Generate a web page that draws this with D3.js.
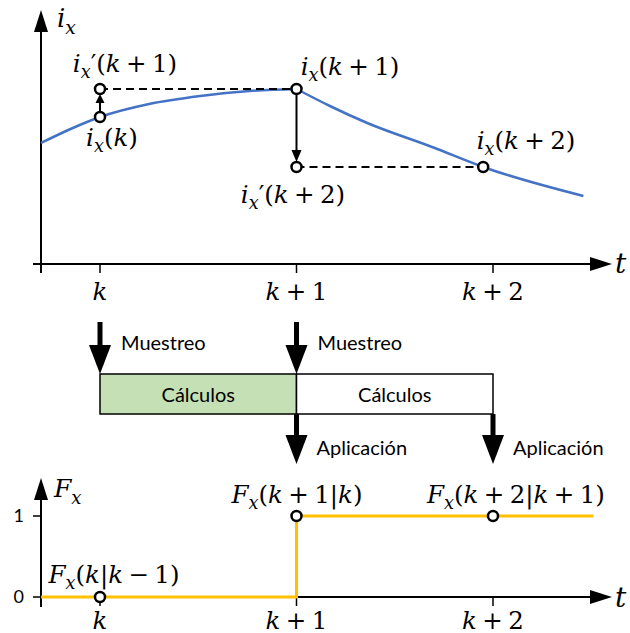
<!DOCTYPE html>
<html>
<head>
<meta charset="utf-8">
<script src="https://cdn.jsdelivr.net/npm/d3@7"></script>
<style>
  html, body { margin: 0; padding: 0; background: #fff; }
  svg { display: block; }
</style>
</head>
<body>
<div id="chart"></div>
<script>
// Sampling instants (in units of the sampling period, k = 0)
const tickTimes = [0, 1, 2];
const tickNames = ["k", "k + 1", "k + 2"];

// Current i_x: rising branch up to k+1, falling branch afterwards
const riseT = [-0.30, -0.15, 0, 0.25, 0.51, 0.76, 1.0];
const riseI = [1.21, 1.35, 1.47, 1.60, 1.68, 1.73, 1.75];
const fallT = [1.0, 1.17, 1.36, 1.69, 1.95, 2.46];
const fallI = [1.75, 1.58, 1.41, 1.17, 0.97, 0.68];

// Marked samples of i_x and their labels
const sampleT = [0, 0, 1, 1, 1.95];
const sampleI = [1.47, 1.75, 1.75, 0.97, 0.97];
const sampleNames = ["i_x(k)", "i_x'(k + 1)", "i_x(k + 1)", "i_x'(k + 2)", "i_x(k + 2)"];

// Applied switching state F_x (step signal)
const stepT = [-0.30, 1, 1, 2.51];
const stepF = [0, 0, 1, 1];
const fxT = [0, 1, 2];
const fxV = [0, 1, 1];
const fxNames = ["F_x(k|k − 1)", "F_x(k + 1|k)", "F_x(k + 2|k + 1)"];
const fxTicks = [0, 1];

// Timeline of the controller tasks
const taskStart = [0, 1];
const taskEnd = [1, 2];
const taskName = ["Cálculos", "Cálculos"];
const sampleEvents = [0, 1];
const applyEvents = [1, 2];
const sampleWord = "Muestreo";
const applyWord = "Aplicación";

const W = 630, H = 633;
const MATH = "DejaVu Serif";
const SANS = "Lato";
const MS = 24.5;            // math label size

const svg = d3.select("#chart").append("svg")
  .attr("width", W).attr("height", H);

const x = d3.scaleLinear().domain([0, 2]).range([100, 493]);
const yTop = d3.scaleLinear().domain([0, 2.54]).range([264, 10]);
const yBot = d3.scaleLinear().domain([0, 1]).range([597, 516]);

const axisX0 = 41;          // vertical axes position
const blue = "#4472C4", yellow = "#FFC000", green = "#C5E0B4";

// ---- helpers -------------------------------------------------------------
function tri(g, pts, fill) {
  g.append("path").attr("d", "M" + pts.map(p => p.join(",")).join("L") + "Z")
    .attr("fill", fill || "#000");
}

// Tiny math typesetter: letters italic, "_c" subscript, operators spaced
function mathText(g, px, py, str, size, anchor) {
  const t = g.append("text").attr("x", px).attr("y", py)
    .attr("font-family", MATH).attr("font-size", size)
    .attr("text-anchor", anchor || "middle").attr("fill", "#000");
  let pendingDy = 0, pendingDx = 0;
  for (let i = 0; i < str.length; i++) {
    let c = str[i];
    if (c === " ") { pendingDx += size * 0.22; continue; }
    let sub = false;
    if (c === "_") { sub = true; c = str[++i]; }
    if (c === "'") c = "′";
    const isLetter = /[a-zA-Z]/.test(c);
    const ts = t.append("tspan").text(c)
      .attr("font-style", isLetter ? "italic" : "normal");
    let dy = pendingDy;
    if (sub) { ts.attr("font-size", size * 0.72); dy += size * 0.26; pendingDy = -size * 0.26; }
    else pendingDy = 0;
    if (dy) ts.attr("dy", dy);
    if (pendingDx) { ts.attr("dx", pendingDx); pendingDx = 0; }
  }
  return t;
}

function axisLine(g, x1, y1, x2, y2, w) {
  g.append("line").attr("x1", x1).attr("y1", y1).attr("x2", x2).attr("y2", y2)
    .attr("stroke", "#000").attr("stroke-width", w || 2);
}

function marker(g, cx, cy) {
  g.append("circle").attr("cx", cx).attr("cy", cy).attr("r", 5)
    .attr("fill", "#fff").attr("stroke", "#000").attr("stroke-width", 2.5);
}

// ---- top panel: current i_x ------------------------------------------------
const gTop = svg.append("g");
const topBase = yTop(0);
axisLine(gTop, axisX0, topBase + 9, axisX0, 30);
tri(gTop, [[axisX0, 10], [axisX0 - 7, 32], [axisX0 + 7, 32]]);
axisLine(gTop, 33, topBase, 592, topBase);
tri(gTop, [[612, topBase], [590, topBase - 7], [590, topBase + 7]]);
tickTimes.forEach(t => axisLine(gTop, x(t), topBase, x(t), topBase + 9, 1.5));
mathText(gTop, 57, 27, "i_x", 26, "start");
mathText(gTop, 615, 273, "t", 28, "start");
tickTimes.forEach((t, i) => mathText(gTop, x(t), 300, tickNames[i], MS));

const line = d3.line().x(d => x(d[0])).y(d => yTop(d[1])).curve(d3.curveMonotoneX);
gTop.append("path").datum(d3.zip(riseT, riseI)).attr("d", line)
  .attr("fill", "none").attr("stroke", blue).attr("stroke-width", 2.5);
gTop.append("path").datum(d3.zip(fallT, fallI)).attr("d", line)
  .attr("fill", "none").attr("stroke", blue).attr("stroke-width", 2.5);

// held predictions (dashed)
gTop.append("line").attr("x1", x(sampleT[1])).attr("y1", yTop(sampleI[1]))
  .attr("x2", x(sampleT[2])).attr("y2", yTop(sampleI[2]))
  .attr("stroke", "#000").attr("stroke-width", 2).attr("stroke-dasharray", "8,5");
gTop.append("line").attr("x1", x(sampleT[3])).attr("y1", yTop(sampleI[3]))
  .attr("x2", x(sampleT[4])).attr("y2", yTop(sampleI[4]))
  .attr("stroke", "#000").attr("stroke-width", 2).attr("stroke-dasharray", "8,5");

// compensation arrows
{
  const ax = x(sampleT[0]), y0 = yTop(sampleI[0]) - 5, y1 = yTop(sampleI[1]) + 5;
  axisLine(gTop, ax, y0, ax, y1 + 6, 2);
  tri(gTop, [[ax, y1], [ax - 4.5, y1 + 9], [ax + 4.5, y1 + 9]]);
  const bx = x(sampleT[2]), b0 = yTop(sampleI[2]) + 5, b1 = yTop(sampleI[3]) - 5;
  axisLine(gTop, bx, b0, bx, b1 - 8, 2);
  tri(gTop, [[bx, b1], [bx - 5, b1 - 12], [bx + 5, b1 - 12]]);
}
sampleT.forEach((t, i) => marker(gTop, x(t), yTop(sampleI[i])));

const sampleLabelPos = [[112, 146], [125, 72], [350, 75], [293, 203], [526, 149]];
sampleNames.forEach((s, i) => mathText(gTop, sampleLabelPos[i][0], sampleLabelPos[i][1], s, MS));

// ---- middle: task timeline ------------------------------------------------
const gMid = svg.append("g");
const boxTop = 374, boxBot = 414;
taskStart.forEach((s, i) => {
  gMid.append("rect").attr("x", x(s)).attr("y", boxTop)
    .attr("width", x(taskEnd[i]) - x(s)).attr("height", boxBot - boxTop)
    .attr("fill", i === 0 ? green : "#fff").attr("stroke", "#000").attr("stroke-width", 1.5);
  gMid.append("text").attr("x", (x(s) + x(taskEnd[i])) / 2).attr("y", 402)
    .attr("text-anchor", "middle").attr("font-family", SANS).attr("font-size", 20)
    .text(taskName[i]);
});

function bigArrow(g, ax, yStart, yTip) {
  g.append("rect").attr("x", ax - 2.5).attr("y", yStart).attr("width", 5)
    .attr("height", yTip - yStart - 20);
  tri(g, [[ax, yTip], [ax - 11, yTip - 29], [ax + 11, yTip - 29]]);
}
sampleEvents.forEach(t => {
  bigArrow(gMid, x(t), 322, boxTop);
  gMid.append("text").attr("x", x(t) + 21).attr("y", 350)
    .attr("font-family", SANS).attr("font-size", 20).text(sampleWord);
});
applyEvents.forEach(t => {
  bigArrow(gMid, x(t), boxBot, 464);
  gMid.append("text").attr("x", x(t) + 20).attr("y", 455)
    .attr("font-family", SANS).attr("font-size", 20).text(applyWord);
});

// ---- bottom panel: F_x ------------------------------------------------------
const gBot = svg.append("g");
const botBase = yBot(0);
axisLine(gBot, axisX0, botBase + 10, axisX0, 498);
tri(gBot, [[axisX0, 478], [axisX0 - 7, 500], [axisX0 + 7, 500]]);
axisLine(gBot, axisX0, botBase, 592, botBase);
tri(gBot, [[612, botBase], [590, botBase - 7], [590, botBase + 7]]);
fxTicks.forEach(v => {
  axisLine(gBot, 33, yBot(v), axisX0, yBot(v), 1.5);
  gBot.append("text").attr("x", 24).attr("y", yBot(v) + 6).attr("text-anchor", "end")
    .attr("font-family", SANS).attr("font-size", 18).text(v);
});
tickTimes.forEach(t => axisLine(gBot, x(t), botBase, x(t), botBase + 9, 1.5));
mathText(gBot, 54, 497, "F_x", 25, "start");
mathText(gBot, 615, 607, "t", 28, "start");
tickTimes.forEach((t, i) => mathText(gBot, x(t), 629, tickNames[i], MS));

const stepLine = d3.line().x(d => x(d[0])).y(d => yBot(d[1]));
gBot.append("path").datum(d3.zip(stepT, stepF)).attr("d", stepLine)
  .attr("fill", "none").attr("stroke", yellow).attr("stroke-width", 3);
fxT.forEach((t, i) => marker(gBot, x(t), yBot(fxV[i])));
const fxLabelPos = [[114, 583], [297, 503], [516, 503]];
fxNames.forEach((s, i) => mathText(gBot, fxLabelPos[i][0], fxLabelPos[i][1], s, MS));
</script>
</body>
</html>
